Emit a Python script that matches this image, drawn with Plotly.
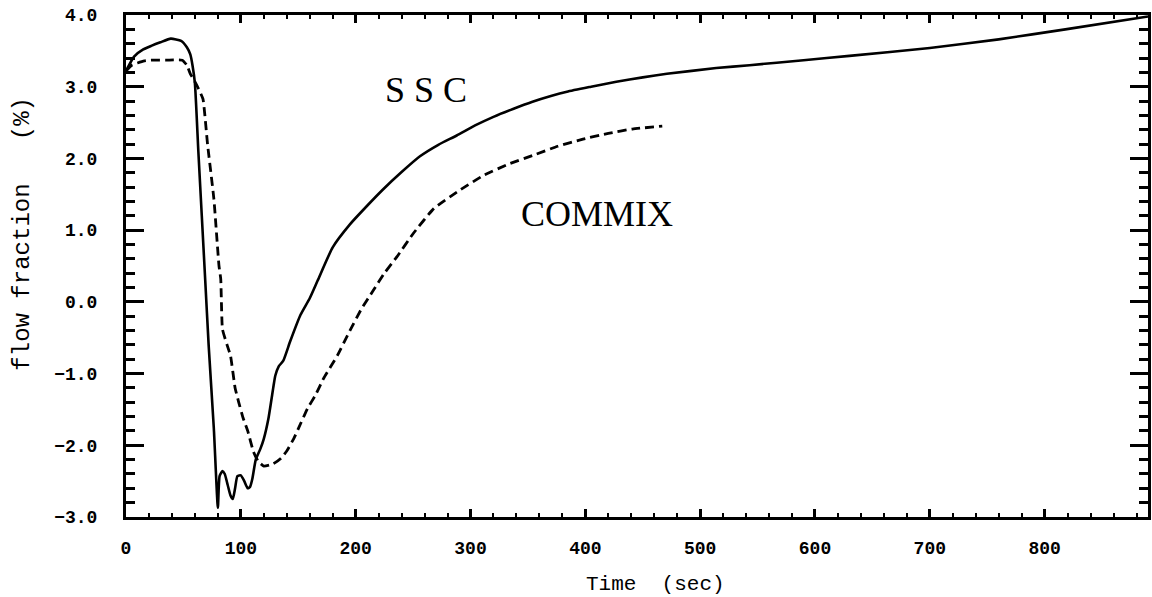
import plotly.graph_objects as go

# ---- data ----
ssc_time = [0, 7, 15, 22, 30, 39, 48, 53, 56, 58, 60, 63, 66, 69, 72, 76.5, 80, 81.5,
            84, 86, 88.5, 91, 93, 95, 97, 100, 103, 106, 108, 110, 113, 117, 120, 124,
            128.5, 130, 133, 137, 143, 152, 160, 167, 180, 195, 210, 224, 240, 256, 272,
            288, 304, 320, 337, 354, 370, 384, 405, 427, 450, 471, 514, 543, 590, 630,
            700, 760, 818, 890]
ssc_flow = [3.22, 3.42, 3.52, 3.57, 3.62, 3.67, 3.64, 3.55, 3.45, 3.29, 3.05, 2.1, 1.2,
            0.3, -0.61, -1.77, -2.87, -2.43, -2.36, -2.4, -2.55, -2.7, -2.75, -2.6, -2.43,
            -2.42, -2.5, -2.6, -2.58, -2.47, -2.2, -2.05, -1.91, -1.63, -1.17, -1.03,
            -0.9, -0.82, -0.55, -0.18, 0.05, 0.3, 0.76, 1.08, 1.34, 1.57, 1.81, 2.03,
            2.19, 2.32, 2.46, 2.58, 2.69, 2.79, 2.87, 2.93, 3.0, 3.07, 3.13, 3.18, 3.26,
            3.3, 3.37, 3.43, 3.54, 3.66, 3.8, 3.98]

commix_time = [0, 5, 10, 16, 22, 35, 49, 53, 56, 59, 62, 67, 71, 76.5, 81, 82.5, 84, 88,
               91, 95, 98, 102, 106, 111, 115, 120, 128, 135, 140, 146, 152, 158, 165,
               172, 184, 195, 205, 215, 225, 236, 250, 268, 290, 311, 333, 354, 376, 398,
               420, 441, 467]
commix_flow = [3.22, 3.3, 3.33, 3.36, 3.37, 3.37, 3.37, 3.3, 3.18, 3.1, 3.01, 2.83, 2.2,
               1.44, 0.5, 0.32, -0.38, -0.6, -0.75, -1.2, -1.39, -1.62, -1.8, -2.09,
               -2.22, -2.29, -2.26, -2.18, -2.08, -1.91, -1.7, -1.49, -1.3, -1.07, -0.75,
               -0.4, -0.1, 0.15, 0.4, 0.63, 0.95, 1.3, 1.55, 1.76, 1.92, 2.04, 2.17, 2.27,
               2.35, 2.41, 2.45]

x_ticks = [0, 100, 200, 300, 400, 500, 600, 700, 800]
y_ticks = [-3, -2, -1, 0, 1, 2, 3, 4]

labels = ["S S C", "COMMIX"]
label_x = [261, 410]
label_y = [2.96, 1.23]

x_title = "Time  (sec)"
y_title = "flow fraction   (%)"

fig = go.Figure()
fig.add_trace(go.Scatter(x=ssc_time, y=ssc_flow, mode="lines", name="SSC",
                         line=dict(color="black", width=2.6, shape="spline", smoothing=0.5)))
fig.add_trace(go.Scatter(x=commix_time, y=commix_flow, mode="lines", name="COMMIX",
                         line=dict(color="black", width=2.8, dash="9px,5px",
                                   shape="spline", smoothing=0.4)))

for txt, lx, ly in zip(labels, label_x, label_y):
    fig.add_annotation(x=lx, y=ly, text=txt, showarrow=False,
                       font=dict(family="Liberation Serif", size=36, color="black"))

fig.add_annotation(xref="paper", yref="paper", x=0.518, y=-0.135, text=x_title,
                   showarrow=False, xanchor="center", yanchor="middle",
                   font=dict(family="Liberation Mono", size=21, color="black"))
fig.add_annotation(xref="paper", yref="paper", x=-0.1015, y=0.565, text=y_title,
                   showarrow=False, textangle=-90, xanchor="center", yanchor="middle",
                   font=dict(family="Liberation Mono", size=24, color="black"))

fig.update_xaxes(range=[0, 890], tickvals=x_ticks, ticks="inside", ticklen=8,
                 tickwidth=2.5, tickcolor="black", showline=True, linewidth=3,
                 linecolor="black", mirror="ticks", showgrid=False, zeroline=False,
                 ticklabelstandoff=12,
                 tickfont=dict(family="Liberation Mono", size=18, color="black", weight="bold"),
                 minor=dict(ticks="inside", ticklen=4, tickwidth=2, dtick=20,
                            tickcolor="black", showgrid=False))
fig.update_yaxes(range=[-3, 4], tickvals=y_ticks, tickformat=".1f", ticks="inside",
                 ticklen=18, tickwidth=3, tickcolor="black", showline=True, linewidth=3,
                 linecolor="black", mirror="ticks", showgrid=False, zeroline=False,
                 ticklabelstandoff=22,
                 tickfont=dict(family="Liberation Mono", size=18, color="black", weight="bold"),
                 minor=dict(ticks="inside", ticklen=9, tickwidth=2.5, dtick=0.2,
                            tickcolor="black", showgrid=False))

fig.update_layout(width=1152, height=597, margin=dict(l=126, r=1, t=15, b=80),
                  paper_bgcolor="white", plot_bgcolor="white", showlegend=False)

fig.write_html("out.html")
